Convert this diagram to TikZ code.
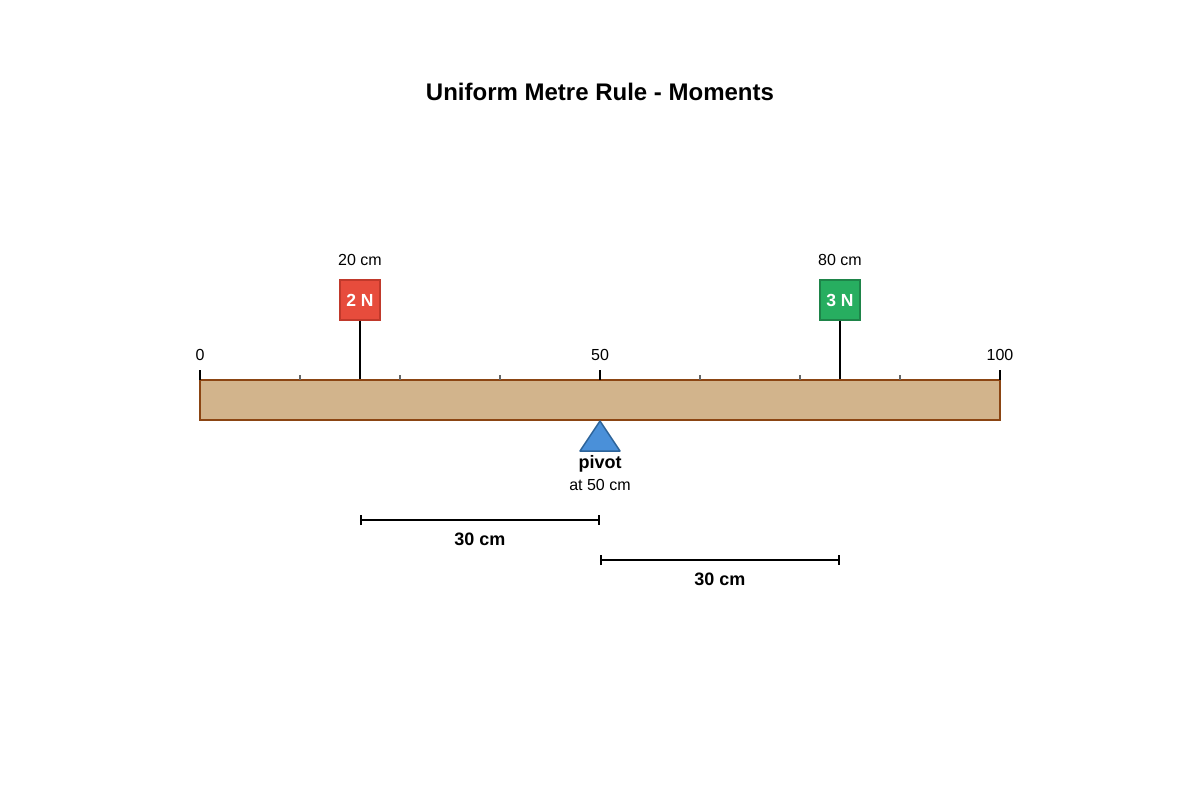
\documentclass[tikz,border=0pt]{standalone}
\usepackage{fontspec}
\setmainfont{Liberation Sans}
\usepackage{xcolor}
\usepackage{tikz}
\usetikzlibrary{arrows, arrows.meta, positioning}
\definecolor{ruletan}{HTML}{D2B48C}
\definecolor{rulebrown}{HTML}{8B4513}
\definecolor{weightred}{HTML}{E74C3C}
\definecolor{weightredline}{HTML}{C0392B}
\definecolor{weightgreen}{HTML}{27AE60}
\definecolor{weightgreenline}{HTML}{1E8449}
\definecolor{pivotblue}{HTML}{4A90D9}
\definecolor{pivotline}{HTML}{2C6399}

\begin{document}
\begin{tikzpicture}[x=1pt, y=-1pt,
				lbl/.style={font=\fontsize{16}{19}\selectfont, inner sep=0pt},
				dimlbl/.style={font=\fontsize{18}{21}\selectfont\bfseries, inner sep=0pt},
				weight/.style={minimum size=40pt, inner sep=0pt, line width=1.5pt, text=white, font=\fontsize{17.5}{20}\selectfont\bfseries},
				string/.style={line width=2pt},
				dim/.style={line width=2pt, {Bar[width=10pt]}-{Bar[width=10pt]}}]
				\useasboundingbox (0,0) rectangle (1200,800);
				\node at (600,92) (title) [font=\fontsize{24}{28}\selectfont\bfseries] {Uniform Metre Rule - Moments};
				\node at (600,400) (rule) [draw=rulebrown, fill=ruletan, line width=2pt, minimum width=800pt, minimum height=40pt, inner sep=0pt] {};
				\foreach \i in {1,2,3,5,6,7}
					\draw[black!60, line width=1.5pt] (200+100*\i,375) -- (200+100*\i,380);
				\foreach \i/\v in {0/0,4/50,8/100} {
					\draw[line width=2pt] (200+100*\i,370) -- (200+100*\i,380);
					\node at (200+100*\i,355) (mark\v) [lbl] {\v};
				}
				\node at (360,300) (wA) [weight, fill=weightred, draw=weightredline] {2 N};
				\node at (360,260) (posA) [lbl] {20 cm};
				\node at (840,300) (wB) [weight, fill=weightgreen, draw=weightgreenline] {3 N};
				\node at (840,260) (posB) [lbl] {80 cm};
				\draw[string] (wA.south) -- (wA |- rule.north);
				\draw[string] (wB.south) -- (wB |- rule.north);
				\coordinate (tip) at (rule.south);
				\draw[fill=pivotblue, draw=pivotline, line width=1.5pt, line join=round] (tip) -- ++(-20,30) -- ++(40,0) -- cycle;
				\node at (600,464) (pivot) [font=\fontsize{18}{21}\selectfont\bfseries, inner sep=0pt] {pivot};
				\node at (600,485) (pivotpos) [lbl] {at 50 cm};
				\coordinate (dimAl) at (360,520);
				\coordinate (dimAr) at (600,520);
				\coordinate (dimBl) at (600,560);
				\coordinate (dimBr) at (840,560);
				\draw[dim] (dimAl) -- (dimAr);
				\draw[dim] (dimBl) -- (dimBr);
				\node at (480,539) (distA) [dimlbl] {30 cm};
				\node at (720,579) (distB) [dimlbl] {30 cm};
			\end{tikzpicture}
\end{document}
